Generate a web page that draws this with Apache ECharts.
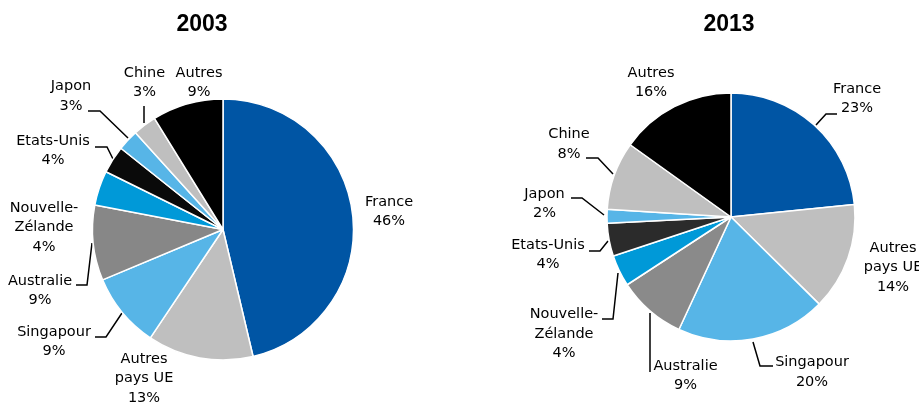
<!DOCTYPE html>
<html><head><meta charset="utf-8">
<script src="https://cdn.jsdelivr.net/npm/echarts@6/dist/echarts.min.js"></script>
<style>html,body{margin:0;padding:0;background:#fff}#c{width:919px;height:404px}</style>
</head><body><div id="c"></div>
<script>
const categories = ['France', 'Autres\npays UE', 'Singapour', 'Australie', 'Nouvelle-\nZélande', 'Etats-Unis', 'Japon', 'Chine', 'Autres'];
// slice shares
const values2003 = [46.3, 13.1, 9.3, 9.3, 4.3, 3.4, 2.6, 2.9, 8.8];
const values2013 = [23.4, 14.0, 19.5, 8.9, 4.1, 4.3, 1.8, 8.9, 15.1];
// percentages printed in the labels
const labels2003 = [46, 13, 9, 9, 4, 4, 3, 3, 9];
const labels2013 = [23, 14, 20, 9, 4, 4, 2, 8, 16];
const titles = ['2003', '2013'];

const colors2003 = ['#0055A4', '#BFBFBF', '#57B5E7', '#878787', '#0099D8', '#0A0A0A', '#57B5E7', '#BFBFBF', '#000000'];
const colors2013 = ['#0055A4', '#BFBFBF', '#57B5E7', '#8A8A8A', '#0099D8', '#2B2B2B', '#57B5E7', '#BFBFBF', '#000000'];

// label layout (positions in px)
const layout2003 = [
  {c: [389, 211.5]},
  {c: [144, 378.5]},
  {c: [54, 341.5], l: [[122, 313], [106, 337], [95, 337]]},
  {c: [40, 290.5], l: [[92, 243], [87, 285], [76, 285]]},
  {c: [44, 227.5]},
  {c: [53, 150.5], l: [[113, 159], [107, 147], [95, 147]]},
  {c: [71, 96], l: [[128, 138], [100, 111], [88, 111]]},
  {c: [144.5, 82.5], l: [[144, 123], [144, 115], [144, 106]]},
  {c: [199, 82.5]}
];
const layout2013 = [
  {c: [857, 98.5], l: [[816, 125], [826, 114], [837, 114]]},
  {c: [893, 267.5]},
  {c: [812, 372], l: [[753, 342], [760, 366], [773, 366]]},
  {c: [685.5, 375.5], l: [[650, 313], [650, 340], [650, 372]]},
  {c: [564, 334], l: [[618, 273], [613, 319], [602, 319]]},
  {c: [548, 254.5], l: [[608, 241], [600, 251], [589, 251]]},
  {c: [544.5, 203.5], l: [[604, 215], [582, 198], [571, 198]]},
  {c: [569, 144], l: [[613, 174], [598, 158], [586, 158]]},
  {c: [651, 82.5]}
];

function buildData(vals, labs, cols, lay) {
  return vals.map((v, i) => ({
    name: categories[i],
    value: v,
    itemStyle: {color: cols[i]},
    labelLine: {show: !!lay[i].l}
  }));
}

function makeSeries(vals, labs, cols, lay, center, radius) {
  return {
    type: 'pie',
    center: center,
    radius: radius,
    startAngle: 90,
    clockwise: true,
    animation: false,
    silent: true,
    avoidLabelOverlap: false,
    data: buildData(vals, labs, cols, lay),
    itemStyle: {borderColor: '#fff', borderWidth: 1.5},
    label: {
      show: true,
      position: 'outside',
      alignTo: 'none',
      overflow: 'none',
      formatter: p => p.name + '\n' + labs[p.dataIndex] + '%',
      fontFamily: 'DejaVu Sans',
      fontSize: 14.5,
      lineHeight: 19.5,
      color: '#000',
      align: 'center'
    },
    labelLine: {show: true, lineStyle: {color: '#000', width: 1.5}},
    labelLayout: function (params) {
      const L = lay[params.dataIndex];
      const r = {x: L.c[0], y: L.c[1], align: 'center', verticalAlign: 'middle'};
      if (L.l) r.labelLinePoints = L.l;
      return r;
    }
  };
}

const chart = echarts.init(document.getElementById('c'), null, {renderer: 'canvas'});
chart.setOption({
  backgroundColor: '#fff',
  animation: false,
  title: [
    {text: titles[0], left: 197, top: 20, textAlign: 'center', textVerticalAlign: 'middle',
     textStyle: {fontFamily: 'Liberation Sans', fontWeight: 'bold', fontSize: 23, color: '#000'}},
    {text: titles[1], left: 724, top: 20, textAlign: 'center', textVerticalAlign: 'middle',
     textStyle: {fontFamily: 'Liberation Sans', fontWeight: 'bold', fontSize: 23, color: '#000'}}
  ],
  series: [
    makeSeries(values2003, labels2003, colors2003, layout2003, [223, 229.5], 130.5),
    makeSeries(values2013, labels2013, colors2013, layout2013, [731, 217], 124)
  ]
});
</script></body></html>
